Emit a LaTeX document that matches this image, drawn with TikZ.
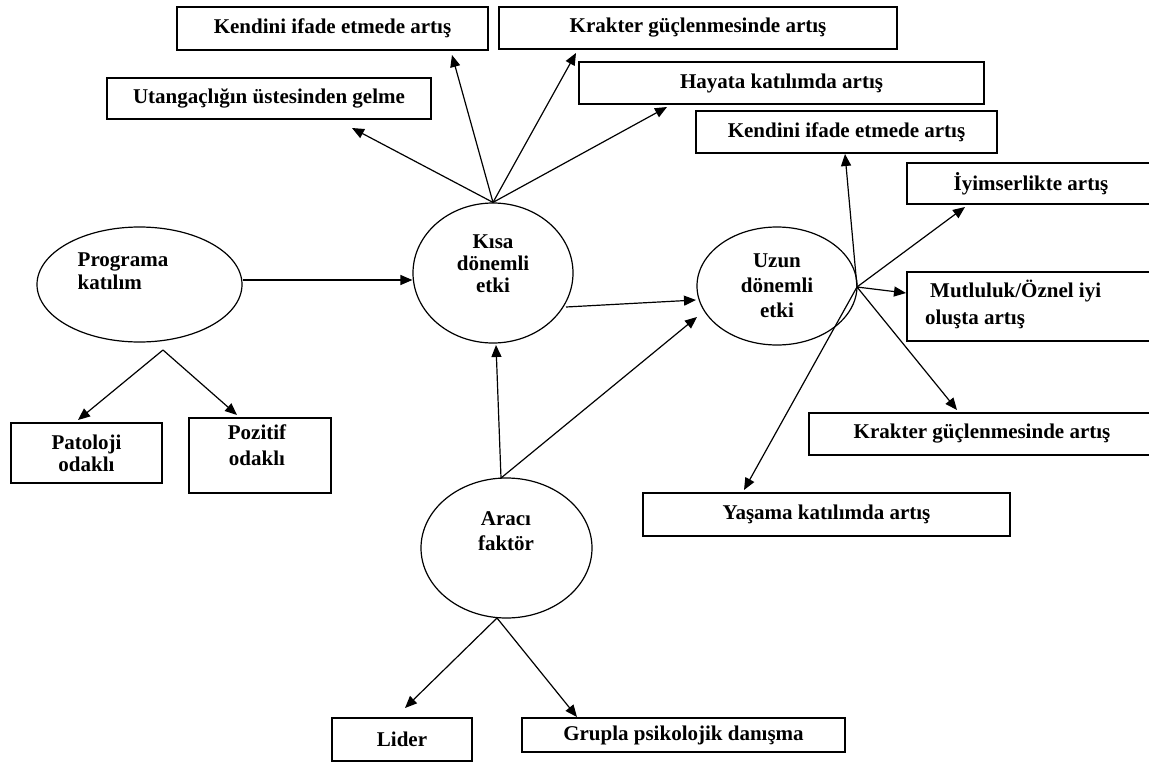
\documentclass[tikz,border=0pt]{standalone}
\usepackage{fontspec}
\setmainfont{Liberation Serif}
\usetikzlibrary{arrows.meta,shapes.geometric}
\begin{document}
\begin{tikzpicture}[x=1pt,y=-1pt,
  every node/.style={font=\fontsize{21}{22}\selectfont\bfseries},
  box/.style={draw, line width=1.2pt, inner sep=0pt, align=center},
  ell/.style={draw, ellipse, line width=1.2pt, inner sep=0pt},
  lbl/.style={inner sep=0pt},
  arr/.style={line width=1.2pt, -{Triangle[length=12pt,width=10pt]}},
  ln/.style={line width=1.2pt}]
\useasboundingbox (0,0) rectangle (1149,763);

% ---- boxes ----
\node[box, minimum width=311pt, minimum height=43pt] (kenTop) at (332.5,28.5) {Kendini ifade etmede artış};
\node[box, minimum width=398pt, minimum height=42pt] (kraTop) at (698,28) {Krakter güçlenmesinde artış};
\node[box, minimum width=324pt, minimum height=41pt] (utan) at (269,98.5) {Utangaçlığın üstesinden gelme};
\node[box, fill=white, minimum width=405pt, minimum height=42pt] (hayata) at (781.5,83) {Hayata katılımda artış};
\node[box, minimum width=301pt, minimum height=42pt] (kenR) at (846.5,132) {Kendini ifade etmede artış};
\node[box, minimum width=248pt, minimum height=41pt] (iyim) at (1031,183.5) {İyimserlikte artış};
\node[box, minimum width=248pt, minimum height=69pt] (mutlu) at (1031,306.5) {};
\node[lbl, anchor=west, align=left, font=\fontsize{21}{27}\selectfont\bfseries] (mutluT) at (925,304) {\hspace{5pt}Mutluluk/Öznel iyi\\oluşta artış};
\node[box, minimum width=346pt, minimum height=42pt] (kraR) at (982,434) {Krakter güçlenmesinde artış};
\node[box, minimum width=367pt, minimum height=43pt] (yasama) at (826.5,514.5) {Yaşama katılımda artış};
\node[box, minimum width=151pt, minimum height=60pt] (pato) at (86.5,453) {Patoloji\\odaklı};
\node[box, minimum width=142pt, minimum height=75pt] (pozi) at (260,455.5) {};
\node[lbl, align=center, font=\fontsize{21}{26}\selectfont\bfseries] (poziT) at (257,445) {Pozitif\\odaklı};
\node[box, minimum width=140pt, minimum height=43pt] (lider) at (402,739.5) {Lider};
\node[box, minimum width=323pt, minimum height=34pt] (grupla) at (683.5,735) {Grupla psikolojik danışma};

% ---- ellipses ----
\node[ell, minimum width=205pt, minimum height=115pt] (prog) at (139.5,284.5) {};
\node[lbl, align=left, font=\fontsize{21}{23}\selectfont\bfseries] (progT) at (123,271) {Programa\\katılım};
\node[ell, minimum width=160pt, minimum height=140pt] (kisa) at (493,273) {};
\node[lbl, align=center] (kisaT) at (493,264) {Kısa\\dönemli\\etki};
\node[ell, minimum width=160pt, minimum height=118pt, align=center, font=\fontsize{21}{25}\selectfont\bfseries] (uzun) at (777,286) {Uzun\\dönemli\\etki};
\node[ell, minimum width=171pt, minimum height=140pt] (araci) at (506.5,548) {};
\node[lbl, align=center, font=\fontsize{21}{25}\selectfont\bfseries] (araciT) at (506,531) {Aracı\\faktör};

% ---- connector ends ----
\coordinate (tUtan) at (352,128);
\coordinate (tKen) at (452,55);
\coordinate (tKra) at (576,53);
\coordinate (tHay) at (667,107);
\coordinate (forkP) at (163,350);
\coordinate (tPato) at (78,420);
\coordinate (tPozi) at (237,415);
\coordinate (aTop) at (501,478);
\coordinate (aBot) at (497,618);
\coordinate (tKisaB) at (496,345);
\coordinate (kOut) at (566,307);
\coordinate (tUzun1) at (696,300);
\coordinate (tUzun2) at (697,317);
\coordinate (uOut) at (857,287);
\coordinate (tKenR) at (845,154);
\coordinate (tIyim) at (965,207);
\coordinate (tMutlu) at (906,293);
\coordinate (tKraR) at (957,410);
\coordinate (tYas) at (744,490);
\coordinate (tLider) at (405,708);
\coordinate (tGrup) at (577,717);

% ---- connectors ----
\draw[arr] (kisa.north) -- (tUtan);
\draw[arr] (kisa.north) -- (tKen);
\draw[arr] (kisa.north) -- (tKra);
\draw[arr] (kisa.north) -- (tHay);
\draw[arr] (prog.east |- 0,280) -- (kisa.west |- 0,280);
\draw[arr] (forkP) -- (tPato);
\draw[arr] (forkP) -- (tPozi);
\draw[arr] (aTop) -- (tKisaB);
\draw[arr] (aTop) -- (tUzun2);
\draw[arr] (kOut) -- (tUzun1);
\draw[arr] (uOut) -- (tKenR);
\draw[arr] (uOut) -- (tIyim);
\draw[arr] (uOut) -- (tMutlu);
\draw[arr] (uOut) -- (tKraR);
\draw[arr] (uOut) -- (tYas);
\draw[arr] (aBot) -- (tLider);
\draw[arr] (aBot) -- (tGrup);
\end{tikzpicture}
\end{document}
